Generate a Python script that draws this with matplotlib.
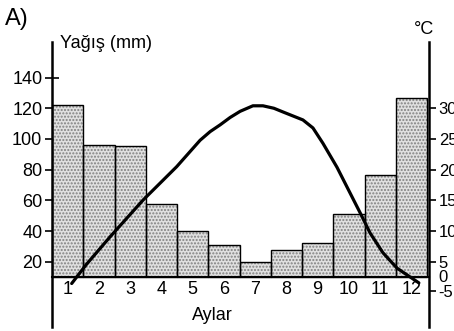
import matplotlib.pyplot as plt
import numpy as np

plt.rcParams['font.family'] = ['Liberation Sans', 'DejaVu Sans']

# Aylık yağış (mm)
aylar = np.arange(1, 13)
yagis = [122, 96, 95.5, 58, 40, 31, 20, 28, 32.5, 51, 76.5, 126.5]
taban = 10.2  # bars stand on this line

# Sıcaklık eğrisi (°C)
sicaklik_x = [1.13, 1.6, 2.36, 3.42, 4.49, 5.24, 5.56, 5.88, 6.2, 6.52, 6.93,
              7.25, 7.6, 7.89, 8.53, 8.85, 9.17, 9.62, 10.04, 10.36, 10.68,
              11.09, 11.54, 11.86, 12.24]
sicaklik = [1.5, 4.6, 9.1, 15.1, 20.5, 24.8, 26.2, 27.3, 28.5, 29.5, 30.4,
            30.4, 30.0, 29.4, 28.1, 26.8, 24.3, 20.4, 16.2, 13.0, 9.7,
            6.5, 4.0, 2.9, 1.6]

yagis_ticks = [20, 40, 60, 80, 100, 120, 140]
sic_ticks = [30, 25, 20, 15, 10, 5, 2.8, 0.3]
sic_labels = ['30', '25', '20', '15', '10', '5', '0', '-5']

W, H = 454, 331
fig = plt.figure(figsize=(W / 100, H / 100), dpi=100)
ax = fig.add_axes([52 / W, (H - 327) / H, (429 - 52) / W, (327 - 42) / H])

ylo, yhi = -22.3, 163.1
ax.set_xlim(0.5, 0.5 + (429 - 52) / 31.25)
ax.set_ylim(ylo, yhi)

# bars: speckled fill, then black outline
ax.bar(aylar, np.array(yagis) - taban, bottom=taban, width=1.0,
       color='#e0e0e0', edgecolor='#808080', linewidth=0, hatch='.....', zorder=2)
ax.bar(aylar, np.array(yagis) - taban, bottom=taban, width=1.0,
       fill=False, edgecolor='black', linewidth=1.0, zorder=3)

for s in ['top', 'right']:
    ax.spines[s].set_visible(False)
ax.spines['left'].set_linewidth(1.8)
ax.spines['bottom'].set_position(('data', taban))
ax.spines['bottom'].set_linewidth(1.5)
ax.spines['bottom'].set_zorder(4)

ax.set_yticks(yagis_ticks)
ax.tick_params(axis='y', direction='inout', length=10, width=1.2, pad=2, labelsize=13)
ax.set_xticks(aylar)
ax.tick_params(axis='x', length=0, pad=3, labelsize=13)

ax2 = ax.twinx()
ax2.set_ylim(ylo / 4, yhi / 4)
for s in ['top', 'left', 'bottom']:
    ax2.spines[s].set_visible(False)
ax2.spines['right'].set_linewidth(1.8)
ax2.set_yticks(sic_ticks)
ax2.set_yticklabels(sic_labels)
ax2.tick_params(axis='y', direction='out', length=5, width=1.2, pad=2, labelsize=12)
ax2.yaxis.get_major_ticks()[6].tick2line.set_visible(False)

ax2.plot(sicaklik_x, sicaklik, color='black', linewidth=2.3,
         solid_capstyle='round', solid_joinstyle='round', zorder=5)

fig.text(5 / W, 1 - 19 / H, 'A)', fontsize=17, va='center', ha='left')
fig.text(60 / W, 1 - 43 / H, 'Yağış (mm)', fontsize=13, va='center', ha='left')
fig.text(424 / W, 1 - 30 / H, '°C', fontsize=13, va='center', ha='center')
fig.text(212 / W, 1 - 316 / H, 'Aylar', fontsize=13, va='center', ha='center')

fig.savefig('out.png', dpi=100)
